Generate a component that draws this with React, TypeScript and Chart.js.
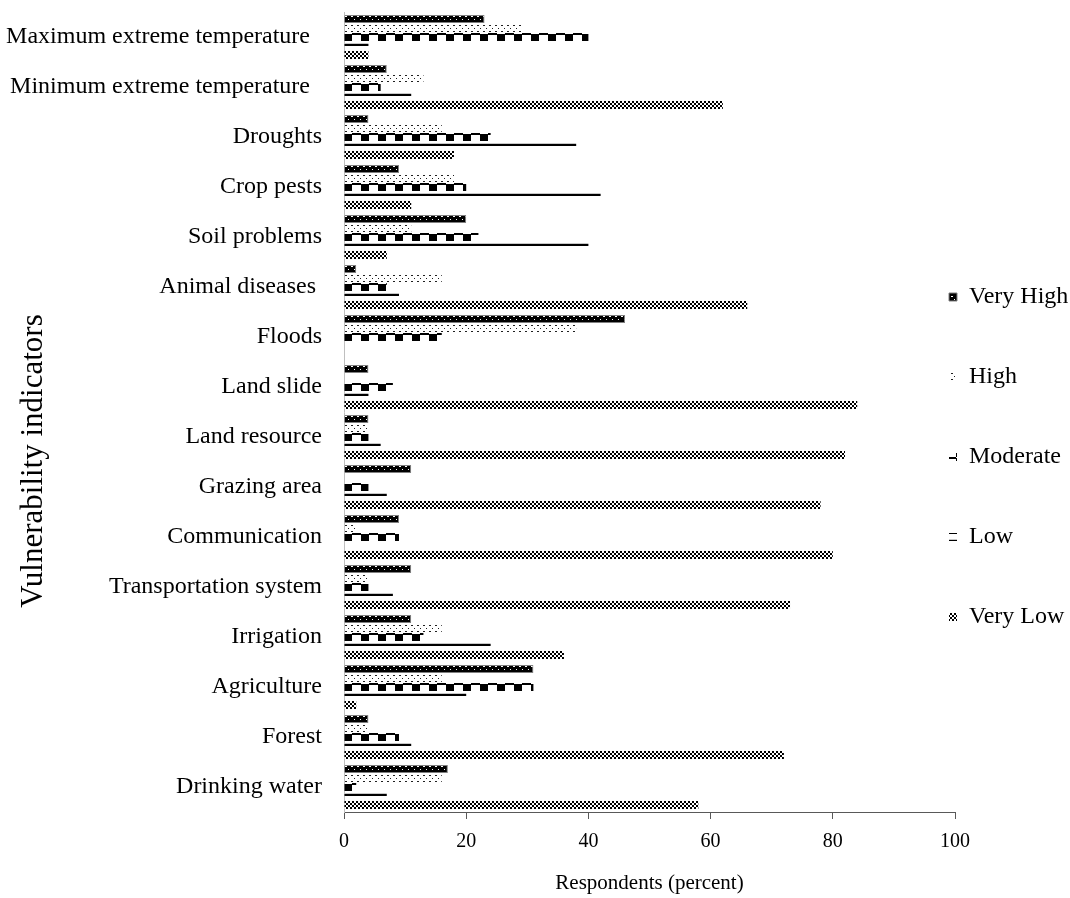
import React, { useEffect, useRef } from 'react';
import { Chart, registerables } from 'chart.js';

Chart.register(...registerables);

// ---------- data ----------
const categories = [
  'Maximum extreme temperature  ',
  'Minimum extreme temperature  ',
  'Droughts',
  'Crop pests',
  'Soil problems',
  'Animal diseases ',
  'Floods',
  'Land slide',
  'Land resource',
  'Grazing area',
  'Communication',
  'Transportation system',
  'Irrigation',
  'Agriculture',
  'Forest',
  'Drinking water',
];
const seriesNames = ['Very High', 'High', 'Moderate', 'Low', 'Very Low'];
const veryHigh = [23, 7, 4, 9, 20, 2, 46, 4, 4, 11, 9, 11, 11, 31, 4, 17];
const high = [29, 13, 16, 18, 11, 16, 38, 0, 4, 0, 2, 4, 16, 16, 4, 16];
const moderate = [40, 6, 24, 20, 22, 7, 16, 8, 4, 4, 9, 4, 13, 31, 9, 2];
const low = [4, 11, 38, 42, 40, 9, 0, 4, 6, 7, 0, 8, 24, 20, 11, 7];
const veryLow = [4, 62, 18, 11, 7, 66, 0, 84, 82, 78, 80, 73, 36, 2, 72, 58];
const xTicks = [0, 20, 40, 60, 80, 100];
const xTitle = 'Respondents (percent)';
const yTitle = 'Vulnerability indicators';

// ---------- layout / style constants ----------
const W = 1070;
const H = 898;
const FONT = "'Liberation Serif', 'Times New Roman', serif";
const CAT_PCT = 0.9;
const BAR_PCT = 8 / 9;
const LEG_BOX_X = 949;
const LEG_Y0 = 297;
const LEG_STEP = 80;
const LEG_FONT = 24;
const LEG_BOX = 8;
const LEG_PAD = LEG_STEP - LEG_FONT;

function makeTile(w: number, h: number, draw: (c: CanvasRenderingContext2D) => void) {
  const cv = document.createElement('canvas');
  cv.width = w;
  cv.height = h;
  const c = cv.getContext('2d') as CanvasRenderingContext2D;
  draw(c);
  return cv;
}

let barTiles: HTMLCanvasElement[] | null = null;
let legTiles: HTMLCanvasElement[] | null = null;

function getBarTiles() {
  if (barTiles) return barTiles;
  barTiles = [
    // Very High: black with white specks
    makeTile(6, 8, (c) => {
      c.fillStyle = '#000';
      c.fillRect(0, 0, 6, 8);
      c.fillStyle = '#fff';
      c.fillRect(1, 1, 2, 1);
      c.fillRect(4, 4, 1, 1);
    }),
    // High: sparse dots
    makeTile(6, 6, (c) => {
      c.fillStyle = '#202020';
      c.fillRect(1, 1, 2, 1);
      c.fillRect(4, 4, 1, 1);
    }),
    // Moderate: blocks + top segments
    makeTile(17, 8, (c) => {
      c.fillStyle = '#000';
      c.fillRect(8, 0, 9, 2);
      c.fillRect(0, 1, 8, 7);
    }),
    // Low: thin line
    makeTile(4, 8, (c) => {
      c.fillStyle = '#c8c8c8';
      c.fillRect(0, 1, 4, 1);
      c.fillStyle = '#000';
      c.fillRect(0, 2, 4, 2);
    }),
    // Very Low: checker
    makeTile(4, 4, (c) => {
      c.fillStyle = '#fff';
      c.fillRect(0, 0, 4, 4);
      c.fillStyle = '#000';
      c.fillRect(0, 0, 2, 2);
      c.fillRect(2, 2, 2, 2);
    }),
  ];
  return barTiles;
}

function getLegTiles() {
  if (legTiles) return legTiles;
  legTiles = [
    makeTile(8, 8, (c) => {
      c.fillStyle = '#000';
      c.fillRect(0, 0, 8, 8);
      c.fillStyle = '#fff';
      c.fillRect(2, 2, 1, 1);
      c.fillRect(5, 2, 1, 1);
      c.fillRect(2, 5, 1, 1);
      c.fillRect(5, 5, 1, 1);
    }),
    makeTile(8, 8, (c) => {
      c.fillStyle = '#404040';
      c.fillRect(1, 1, 1, 1);
      c.fillRect(5, 1, 1, 1);
      c.fillRect(3, 4, 1, 1);
      c.fillRect(1, 6, 1, 1);
      c.fillRect(5, 6, 1, 1);
    }),
    makeTile(8, 8, (c) => {
      c.fillStyle = '#000';
      c.fillRect(0, 1, 5, 5);
      c.fillRect(5, 4, 3, 4);
    }),
    makeTile(8, 8, (c) => {
      c.fillStyle = '#c8c8c8';
      c.fillRect(0, 2, 8, 1);
      c.fillStyle = '#000';
      c.fillRect(0, 4, 8, 2);
    }),
    makeTile(8, 8, (c) => {
      c.fillStyle = '#fff';
      c.fillRect(0, 0, 8, 8);
      c.fillStyle = '#000';
      for (let y = 0; y < 8; y++) for (let x = 0; x < 8; x++) if ((x + y) % 2 === 0) c.fillRect(x, y, 1, 1);
    }),
  ];
  return legTiles;
}

function fillFor(ctx: any) {
  const i = ctx.datasetIndex;
  const chart = ctx.chart;
  if (ctx.type === 'data') {
    const pat = chart.ctx.createPattern(getBarTiles()[i], 'repeat');
    if (!pat) return '#000';
    const ys = chart.scales.y;
    const xs = chart.scales.x;
    if (ys && xs) {
      const band = Math.abs(ys.getPixelForValue(1) - ys.getPixelForValue(0));
      const group = band * CAT_PCT;
      const slot = group / seriesNames.length;
      const barTop = ys.getPixelForValue(ctx.dataIndex) - group / 2 + i * slot + (slot * (1 - BAR_PCT)) / 2;
      const x0 = xs.getPixelForValue(0);
      if (isFinite(barTop) && isFinite(x0)) {
        pat.setTransform(new DOMMatrix([1, 0, 0, 1, x0, barTop]));
      }
    }
    return pat;
  }
  const pat = chart.ctx.createPattern(getLegTiles()[i], 'repeat');
  if (!pat) return '#000';
  pat.setTransform(new DOMMatrix([1, 0, 0, 1, LEG_BOX_X, LEG_Y0 + i * LEG_STEP - LEG_BOX / 2]));
  return pat;
}

const legendPlacer = {
  id: 'legendPlacer',
  afterLayout(chart: any) {
    const lg = chart.legend;
    if (!lg) return;
    lg.left = LEG_BOX_X - LEG_PAD;
    lg.right = chart.width;
    lg.width = lg.right - lg.left;
    lg.top = LEG_Y0 - LEG_FONT / 2 - LEG_PAD;
    lg.bottom = chart.height;
    lg.height = lg.bottom - lg.top;
  },
};

const yTitlePlugin = {
  id: 'yTitlePlugin',
  afterDraw(chart: any) {
    const c = chart.ctx as CanvasRenderingContext2D;
    c.save();
    c.translate(34, 461);
    c.rotate(-Math.PI / 2);
    c.font = `31px ${FONT}`;
    c.fillStyle = '#000';
    c.textAlign = 'center';
    c.textBaseline = 'middle';
    c.fillText(yTitle, 0, 0);
    c.restore();
  },
};

export default function App() {
  const ref = useRef<HTMLCanvasElement | null>(null);

  useEffect(() => {
    if (!ref.current) return;
    const seriesValues = [veryHigh, high, moderate, low, veryLow];
    const chart = new Chart(ref.current, {
      type: 'bar',
      data: {
        labels: categories,
        datasets: seriesNames.map((name, i) => ({
          label: name,
          data: seriesValues[i],
          backgroundColor: fillFor,
          borderColor: i === 0 ? '#808080' : 'rgba(0,0,0,0)',
          borderWidth: i === 0 ? 1 : 0,
          inflateAmount: 0,
          categoryPercentage: CAT_PCT,
          barPercentage: BAR_PCT,
        })),
      },
      options: {
        indexAxis: 'y',
        responsive: false,
        animation: false,
        devicePixelRatio: 1,
        events: [],
        layout: { padding: { top: 12, left: 0, right: 0, bottom: 0 }, autoPadding: false },
        font: { family: FONT },
        scales: {
          x: {
            type: 'linear',
            position: 'bottom',
            min: 0,
            max: 100,
            afterBuildTicks: (s: any) => {
              s.ticks = xTicks.map((v) => ({ value: v }));
            },
            ticks: { color: '#000', padding: 11, font: { family: FONT, size: 20 } },
            grid: { display: true, drawOnChartArea: false, drawTicks: true, tickLength: 7, color: '#595959' },
            border: { display: true, color: '#595959', width: 1 },
            title: {
              display: true,
              text: xTitle,
              color: '#000',
              font: { family: FONT, size: 21 },
              padding: { top: 0, bottom: 2 },
            },
            afterFit: (s: any) => {
              s.height = 86;
              s.paddingLeft = 0;
              s.paddingRight = 0;
            },
          },
          y: {
            type: 'category',
            position: 'left',
            offset: true,
            grid: { display: false, drawTicks: false, tickLength: 0 },
            border: { display: true, color: '#bfbfbf', width: 1 },
            ticks: { color: '#000', padding: 22, autoSkip: false, font: { family: FONT, size: 24 } },
            afterFit: (s: any) => {
              s.width = 344;
              s.paddingTop = 0;
              s.paddingBottom = 0;
            },
          },
        },
        plugins: {
          tooltip: { enabled: false },
          legend: {
            display: true,
            position: 'right',
            align: 'start',
            maxWidth: 115,
            labels: {
              boxWidth: LEG_BOX,
              boxHeight: LEG_BOX,
              padding: LEG_PAD,
              color: '#000',
              font: { family: FONT, size: LEG_FONT },
            },
          },
        },
      } as any,
      plugins: [legendPlacer, yTitlePlugin],
    });
    return () => chart.destroy();
  }, []);

  return (
    <div style={{ position: 'absolute', left: 0, top: 0, width: W, height: H }}>
      <canvas ref={ref} width={W} height={H} style={{ display: 'block' }} />
    </div>
  );
}
